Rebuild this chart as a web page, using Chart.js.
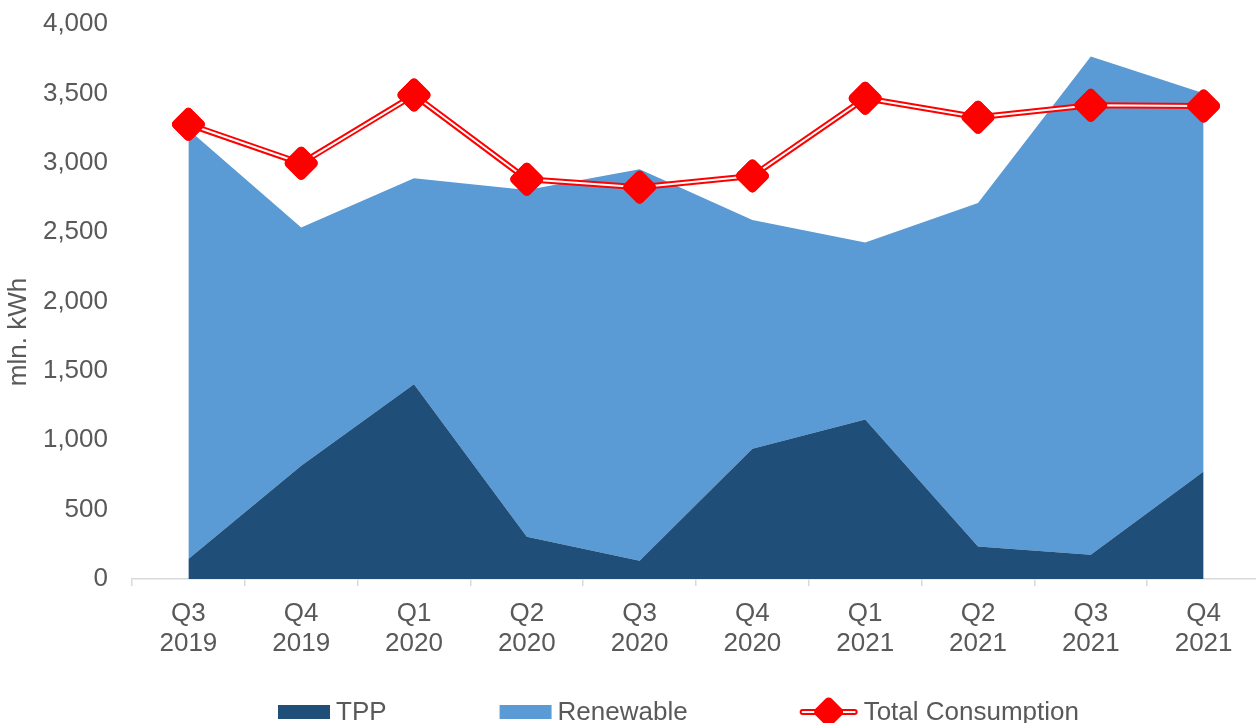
<!DOCTYPE html>
<html lang="en">
<head>
<meta charset="utf-8">
<title>Generation and consumption, mln. kWh</title>
<script src="https://cdn.jsdelivr.net/npm/chart.js@4.4.1/dist/chart.umd.min.js"></script>
<style>
    html, body { margin: 0; padding: 0; background: #fff; overflow: hidden; }
    #energy-chart { display: block; }
</style>
</head>
<body>
<canvas id="energy-chart" width="1260" height="723"></canvas>
<script>
// квартальные данные, млн кВт·ч
const quarters = ['Q3', 'Q4', 'Q1', 'Q2', 'Q3', 'Q4', 'Q1', 'Q2', 'Q3', 'Q4'];
const years = ['2019', '2019', '2020', '2020', '2020', '2020', '2021', '2021', '2021', '2021'];
const tppValues = [144, 816, 1404, 305, 132, 939, 1150, 235, 175, 774];
const renewableValues = [3096, 1717, 1484, 2499, 2821, 1649, 1276, 2475, 3590, 2727];
const totalConsumption = [3277, 2996, 3488, 2881, 2824, 2905, 3465, 3328, 3414, 3409];
const yMax = 4000;
const yStep = 500;

const FONT_FAMILY = 'Arial, "Liberation Sans", sans-serif';
const TEXT_COLOR = '#595959';
const FONT_SIZE = 26;

// подписи оси X в две строки: квартал / год
const labels = quarters.map((q, i) => [q, years[i]]);

// двойная линия: белая полоса по центру красной, маркеры поверх
const doubleLinePlugin = {
    id: 'doubleLine',
    beforeDatasetDraw(chart, args, opts) {
        if (args.index !== opts.datasetIndex) return;
        chart.ctx.save();
        chart.ctx.lineJoin = 'round';
    },
    afterDatasetDraw(chart, args, opts) {
        if (args.index !== opts.datasetIndex) return;
        const ctx = chart.ctx;
        const points = args.meta.data;
        ctx.beginPath();
        points.forEach((p, i) => (i ? ctx.lineTo(p.x, p.y) : ctx.moveTo(p.x, p.y)));
        ctx.strokeStyle = opts.color;
        ctx.lineWidth = opts.width;
        ctx.lineJoin = 'round';
        ctx.stroke();
        points.forEach(p => p.draw(ctx, chart.chartArea));
        ctx.restore();
    }
};

// подпись оси Y (чуть ниже центра, как в исходном макете)
const yTitlePlugin = {
    id: 'yTitle',
    afterDraw(chart, args, opts) {
        const ctx = chart.ctx;
        ctx.save();
        ctx.translate(opts.x, opts.y);
        ctx.rotate(-Math.PI / 2);
        ctx.font = `${FONT_SIZE}px ${FONT_FAMILY}`;
        ctx.fillStyle = TEXT_COLOR;
        ctx.textAlign = 'center';
        ctx.textBaseline = 'middle';
        ctx.fillText(opts.text, 0, 0);
        ctx.restore();
    }
};

// легенда внизу: прямоугольники для областей, линия с ромбом для потребления
const bottomLegendPlugin = {
    id: 'bottomLegend',
    afterDraw(chart, args, opts) {
        const ctx = chart.ctx;
        ctx.save();
        ctx.font = `${FONT_SIZE}px ${FONT_FAMILY}`;
        ctx.textBaseline = 'alphabetic';
        let x = opts.left;
        chart.data.datasets.forEach(ds => {
            let symbolWidth;
            if (ds.pointRadius > 0) {
                symbolWidth = opts.lineWidth;
                const cy = opts.y;
                ctx.lineCap = 'round';
                ctx.beginPath();
                ctx.moveTo(x + 2, cy);
                ctx.lineTo(x + symbolWidth - 2, cy);
                ctx.strokeStyle = ds.borderColor;
                ctx.lineWidth = ds.borderWidth;
                ctx.stroke();
                ctx.strokeStyle = opts.innerColor;
                ctx.lineWidth = opts.innerWidth;
                ctx.stroke();
                ctx.lineJoin = 'round';
                ctx.fillStyle = ds.pointBackgroundColor;
                ctx.strokeStyle = ds.pointBorderColor;
                ctx.lineWidth = ds.pointBorderWidth;
                Chart.helpers.drawPoint(ctx, {
                    pointStyle: ds.pointStyle,
                    radius: opts.markerRadius,
                    borderWidth: ds.pointBorderWidth,
                    rotation: 0
                }, x + symbolWidth / 2, cy);
                x += symbolWidth + opts.lineTextGap;
            } else {
                symbolWidth = opts.boxWidth;
                ctx.fillStyle = ds.backgroundColor;
                ctx.fillRect(x, opts.y - opts.boxHeight / 2, opts.boxWidth, opts.boxHeight);
                x += symbolWidth + opts.boxTextGap;
            }
            ctx.fillStyle = TEXT_COLOR;
            ctx.fillText(ds.label, x, opts.textBaseline);
            x += ctx.measureText(ds.label).width + opts.itemGap;
        });
        ctx.restore();
    }
};

const ctx = document.getElementById('energy-chart').getContext('2d');
new Chart(ctx, {
    type: 'line',
    data: {
        labels,
        datasets: [
            {
                label: 'TPP',
                data: tppValues,
                stack: 'generation',
                order: 1,
                fill: 'origin',
                backgroundColor: '#1f4e79',
                borderWidth: 0,
                pointRadius: 0,
                tension: 0
            },
            {
                label: 'Renewable',
                data: renewableValues,
                stack: 'generation',
                order: 1,
                fill: '-1',
                backgroundColor: '#5b9bd5',
                borderWidth: 0,
                pointRadius: 0,
                tension: 0
            },
            {
                label: 'Total Consumption',
                data: totalConsumption,
                stack: 'consumption',
                order: 0,
                fill: false,
                borderColor: '#ff0000',
                borderWidth: 6,
                borderJoinStyle: 'round',
                pointStyle: 'rectRot',
                pointRadius: 12,
                pointBorderWidth: 9,
                pointBackgroundColor: '#ff0000',
                pointBorderColor: '#ff0000',
                tension: 0
            }
        ]
    },
    options: {
        responsive: false,
        animation: false,
        events: [],
        layout: {
            autoPadding: false,
            padding: { top: 24, right: 0, bottom: 44, left: 0 }
        },
        scales: {
            x: {
                offset: true,
                grid: {
                    offset: true,
                    drawOnChartArea: false,
                    drawTicks: true,
                    tickLength: 7,
                    color: '#d9d9d9',
                    lineWidth: 1.5
                },
                border: { color: '#d9d9d9', width: 1.5 },
                ticks: {
                    color: TEXT_COLOR,
                    font: { family: FONT_FAMILY, size: FONT_SIZE, lineHeight: 1.15 },
                    padding: 13,
                    maxRotation: 0,
                    autoSkip: false
                },
                afterFit(scale) {
                    // подписи помещаются в ширину категорий, боковые отступы не нужны
                    scale.height = 100;
                    scale.paddingLeft = 0;
                    scale.paddingRight = 0;
                }
            },
            y: {
                stacked: true,
                min: 0,
                max: yMax,
                grid: { display: false, drawTicks: false },
                border: { display: false },
                ticks: {
                    stepSize: yStep,
                    padding: 24,
                    color: TEXT_COLOR,
                    font: { family: FONT_FAMILY, size: FONT_SIZE },
                    callback: v => v.toLocaleString('en-US')
                },
                afterFit(scale) {
                    scale.width = 132;
                    scale.paddingTop = 0;
                    scale.paddingBottom = 0;
                }
            }
        },
        plugins: {
            legend: { display: false },
            tooltip: { enabled: false },
            doubleLine: { datasetIndex: 2, color: '#ffffff', width: 2 },
            yTitle: { text: 'mln. kWh', x: 19, y: 332 },
            bottomLegend: {
                left: 278,
                y: 712,
                textBaseline: 719.5,
                boxWidth: 52,
                boxHeight: 14,
                boxTextGap: 6,
                lineWidth: 56,
                lineTextGap: 7,
                markerRadius: 10,
                innerColor: '#ffffff',
                innerWidth: 2,
                itemGap: 113
            }
        }
    },
    plugins: [doubleLinePlugin, yTitlePlugin, bottomLegendPlugin]
});
</script>
</body>
</html>
